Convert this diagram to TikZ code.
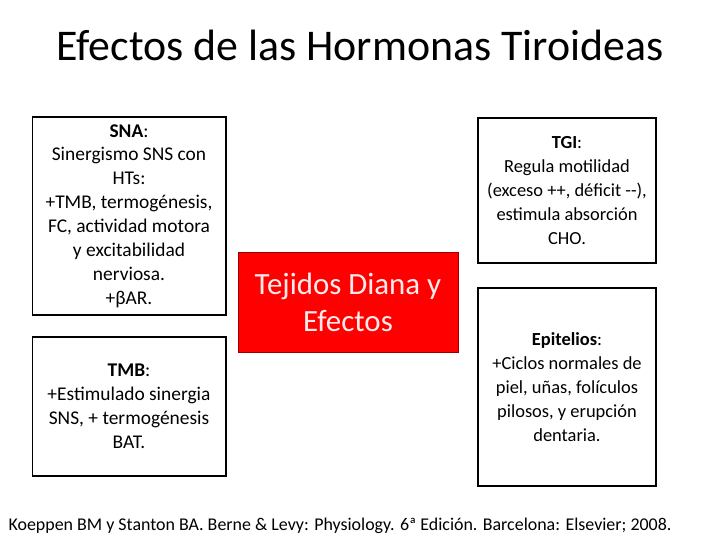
\documentclass[tikz,border=0pt]{standalone}
\usepackage{fontspec}
\setmainfont{Carlito}
\begin{document}
\begin{tikzpicture}[x=1bp,y=-1bp,
	infobox/.style={draw=black,line width=2pt,align=center,inner sep=2pt,font=\fontsize{19.5}{24}\selectfont},
	redbox/.style={fill=red,draw=red!60!black,line width=0.6pt,text=white!92!red,align=center,font=\fontsize{31}{37}\selectfont}]
	\useasboundingbox (0,0) rectangle (720,540);
	\node (title) at (360,45) {\fontsize{44}{50}\selectfont Efectos de las Hormonas Tiroideas};
	\node[infobox,minimum width=193bp,minimum height=198bp] (sna) at (129,216)
		{\textbf{SNA}:\\Sinergismo SNS con\\HTs:\\+TMB, termogénesis,\\FC, actividad motora\\y excitabilidad\\nerviosa.\\+βAR.};
	\node[infobox,minimum width=193bp,minimum height=139bp] (tmb) at (129,406.5)
		{\textbf{TMB}:\\+Estimulado sinergia\\SNS, + termogénesis\\BAT.};
	\node[redbox,minimum width=220bp,minimum height=100bp] (tej) at (348,302)
		{Tejidos Diana y\\Efectos};
	\node[infobox,minimum width=178bp,minimum height=145bp,font=\fontsize{18.5}{24}\selectfont] (tgi) at (567,190.5)
		{\textbf{TGI}:\\Regula motilidad\\(exceso ++, déficit -{}-),\\estimula absorción\\CHO.};
	\node[infobox,minimum width=178bp,minimum height=198bp,font=\fontsize{18.5}{24}\selectfont] (epi) at (567,387)
		{\textbf{Epitelios}:\\+Ciclos normales de\\piel, uñas, folículos\\pilosos, y erupción\\dentaria.};
	\node (ref) at (340,526) {\fontsize{18}{21}\selectfont Koeppen BM y Stanton BA. Berne \& Levy: Physiology. 6ª Edición. Barcelona: Elsevier; 2008.};
\end{tikzpicture}
\end{document}
